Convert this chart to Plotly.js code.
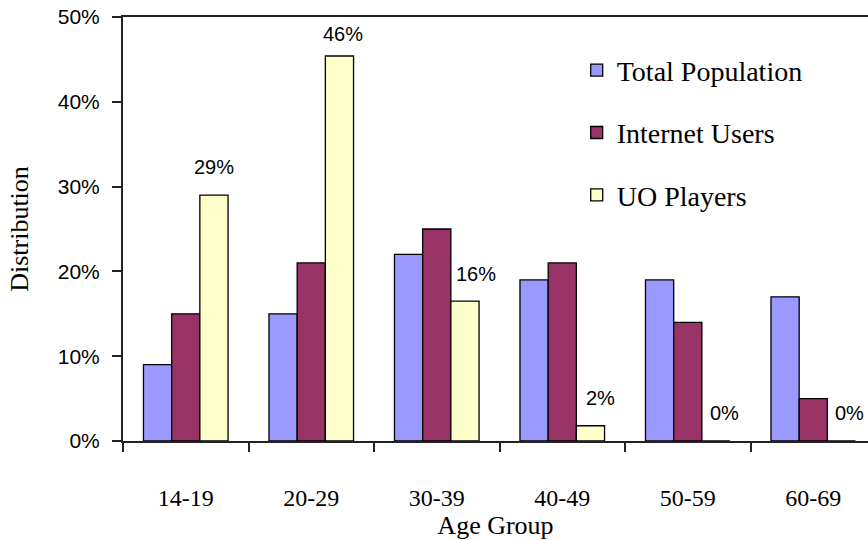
<!DOCTYPE html>
<html>
<head>
<meta charset="utf-8">
<script src="https://cdn.plot.ly/plotly-3.0.1.min.js"></script>
<style>html,body{margin:0;padding:0;background:#fff;}#chart{width:868px;height:540px;}</style>
</head>
<body>
<div id="chart"></div>
<script>
const categories = ['14-19', '20-29', '30-39', '40-49', '50-59', '60-69'];
const totalPopulation = [9, 15, 22, 19, 19, 17];
const internetUsers = [15, 21, 25, 21, 14, 5];
const uoPlayers = [29, 45.4, 16.5, 1.8, 0, 0];
const uoLabels = ['29%', '46%', '16%', '2%', '0%', '0%'];

const serif = 'Liberation Serif, Times New Roman, serif';
const sans = 'Liberation Sans, Arial, sans-serif';
const bargap = 0.326;
const barStep = (1 - bargap) / 3;
const labelNudgeX = [0, 4, 11, 10, 9, 8];
const labelNudgeY = [15, 9, 14, 15, 15, 15];

const line = {color: '#000', width: 1.3};
const traces = [
  {type: 'bar', name: 'Total Population', x: categories, y: totalPopulation,
   marker: {color: '#9999FF', line: line}, legendgroup: 'a', hoverinfo: 'y'},
  {type: 'bar', name: 'Internet Users', x: categories, y: internetUsers,
   marker: {color: '#993366', line: line}, legendgroup: 'b', hoverinfo: 'y'},
  {type: 'bar', name: 'UO Players', x: categories, y: uoPlayers,
   marker: {color: '#FFFFCC', line: line}, legendgroup: 'c', hoverinfo: 'y'}
];

const annotations = uoPlayers.map((v, i) => ({
  x: i + barStep, y: v, xref: 'x', yref: 'y',
  text: uoLabels[i], showarrow: false,
  xanchor: 'center', yanchor: 'bottom', yshift: labelNudgeY[i], xshift: labelNudgeX[i],
  font: {family: sans, size: 20, color: '#000'}
}));

const layout = {
  width: 868, height: 540,
  margin: {l: 123, r: 0, t: 17, b: 99},
  paper_bgcolor: '#fff', plot_bgcolor: '#fff',
  barmode: 'group', bargap: bargap, bargroupgap: 0,
  showlegend: true,
  legend: {x: 0.609, y: 0.933, xanchor: 'left', yanchor: 'top',
           font: {family: serif, size: 28, color: '#000'},
           traceorder: 'grouped', tracegroupgap: 23, bgcolor: 'rgba(0,0,0,0)'},
  xaxis: {
    type: 'category', range: [-0.5, 5.436], tickson: 'boundaries',
    ticks: 'outside', ticklen: 9, tickwidth: 2, tickcolor: '#222',
    showline: true, linecolor: '#222', linewidth: 2, mirror: true,
    showgrid: false, ticklabelstandoff: 34,
    tickfont: {family: serif, size: 24, color: '#000'},
    title: {text: 'Age Group', font: {family: serif, size: 26, color: '#000'}, standoff: 9},
    fixedrange: true
  },
  yaxis: {
    range: [0, 50], dtick: 10, tick0: 0, ticksuffix: '%',
    ticks: 'outside', ticklen: 9, tickwidth: 2, tickcolor: '#222',
    showline: true, linecolor: '#222', linewidth: 2,
    showgrid: false, zeroline: false, ticklabelstandoff: 8,
    tickfont: {family: sans, size: 21, color: '#000'},
    title: {text: 'Distribution', font: {family: serif, size: 26, color: '#000'}, standoff: 22},
    fixedrange: true
  },
  annotations: annotations
};

Plotly.newPlot('chart', traces, layout, {displayModeBar: false, staticPlot: true});
</script>
</body>
</html>
